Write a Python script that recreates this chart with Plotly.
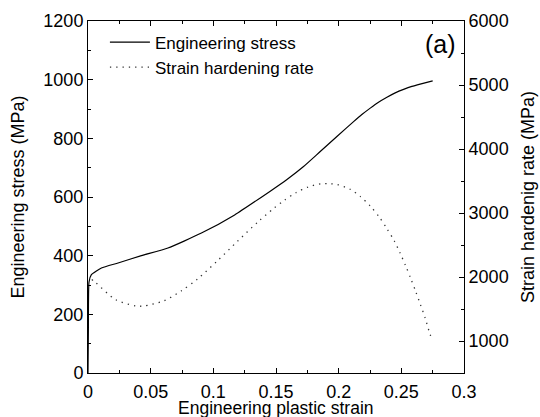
import plotly.graph_objects as go

# Engineering stress curve (MPa) vs engineering plastic strain
stress_strain = [0, 0.0003, 0.0008, 0.0027, 0.0107, 0.024, 0.0426, 0.0638, 0.0905,
                 0.117, 0.1454, 0.1585, 0.172, 0.1853, 0.1986, 0.2119, 0.2185, 0.2252,
                 0.2318, 0.2385, 0.2451, 0.2518, 0.2584, 0.265, 0.275]
stress = [0, 150, 310, 335, 358, 375, 400, 426, 477,
          539, 620, 659, 704, 755, 806, 857, 881, 903,
          923, 940, 955, 967, 977, 985, 996]

# Strain hardening rate (MPa) vs engineering plastic strain
rate_strain = [0.003, 0.0056, 0.0221, 0.0383, 0.0442, 0.0602, 0.0743, 0.0876, 0.1036,
               0.1195, 0.1355, 0.148, 0.1565, 0.1659, 0.1755, 0.1861, 0.1925, 0.1986,
               0.2093, 0.2173, 0.2252, 0.2324, 0.2385, 0.2444, 0.249, 0.2533, 0.2576,
               0.2616, 0.2653, 0.269, 0.2722, 0.2741]
rate = [1960, 1922, 1645, 1547, 1547, 1625, 1781, 1973, 2259,
        2563, 2859, 3070, 3197, 3317, 3406, 3458, 3458, 3447,
        3369, 3259, 3109, 2937, 2755, 2563, 2375, 2181, 1973,
        1766, 1567, 1359, 1150, 1036]

FONT = "Arial, Liberation Sans, sans-serif"

fig = go.Figure()
fig.add_trace(go.Scatter(x=stress_strain, y=stress, mode="lines",
                         name="Engineering stress",
                         line=dict(color="black", width=1.2, shape="spline", smoothing=0.5)))
fig.add_trace(go.Scatter(x=rate_strain, y=rate, mode="lines", yaxis="y2",
                         name="Strain hardening rate",
                         line=dict(color="#333333", width=1.3, dash="1.3px,5px",
                                   shape="spline", smoothing=0.8)))

axis_common = dict(showline=True, linecolor="black", linewidth=1, ticks="inside",
                   ticklen=5, tickwidth=1, tickcolor="black", showgrid=False,
                   zeroline=False, automargin=False,
                   tickfont=dict(family=FONT, size=18, color="black"))

fig.update_layout(
    width=540, height=417,
    margin=dict(l=88, r=76, t=21, b=44),
    paper_bgcolor="white", plot_bgcolor="white",
    font=dict(family=FONT, color="black"),
    showlegend=True,
    legend=dict(x=0.045, y=0.99, xanchor="left", yanchor="top",
                bgcolor="rgba(0,0,0,0)", font=dict(family=FONT, size=17),
                itemwidth=40, tracegroupgap=0),
    xaxis=dict(range=[0, 0.3], tick0=0, dtick=0.05, mirror="ticks",
               ticklabelstandoff=2,
               minor=dict(ticks="inside", ticklen=3, dtick=0.025, tickcolor="black"),
               **axis_common),
    yaxis=dict(range=[0, 1200], tick0=0, dtick=200,
               minor=dict(ticks="inside", ticklen=3, dtick=100, tickcolor="black"),
               title=dict(text="Engineering stress (MPa)", standoff=14,
                          font=dict(family=FONT, size=18)),
               **axis_common),
    yaxis2=dict(range=[500, 6000], tick0=0, dtick=1000, overlaying="y", side="right",
                minor=dict(ticks="inside", ticklen=3, dtick=500, tickcolor="black"),
                title=dict(text="Strain hardenig rate (MPa)", standoff=13,
                           font=dict(family=FONT, size=18)),
                **axis_common),
    annotations=[
        dict(text="(a)", x=0.937, y=0.935, xref="paper", yref="paper",
             xanchor="center", yanchor="middle",
             showarrow=False, font=dict(family=FONT, size=25, color="black")),
        dict(text="Engineering plastic strain", x=0.5, y=-0.099, xref="paper", yref="paper",
             xanchor="center", yanchor="middle",
             showarrow=False, font=dict(family=FONT, size=17.5, color="black")),
    ],
)

fig.write_html("out.html")
